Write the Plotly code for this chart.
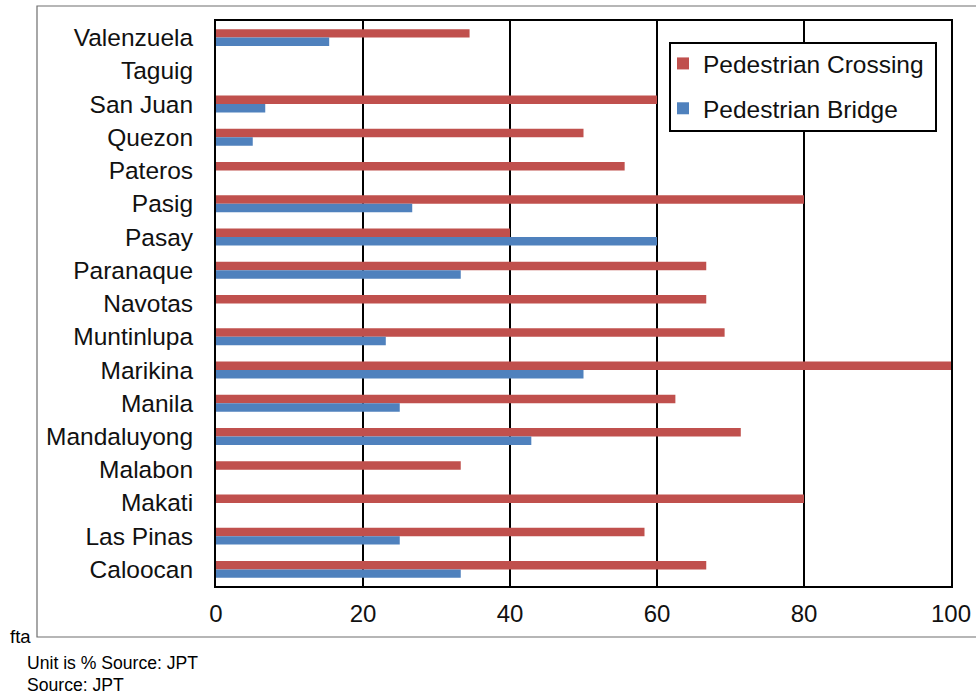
import plotly.graph_objects as go

# Municipalities, listed top to bottom as drawn
cities = ["Valenzuela", "Taguig", "San Juan", "Quezon", "Pateros", "Pasig", "Pasay",
          "Paranaque", "Navotas", "Muntinlupa", "Marikina", "Manila", "Mandaluyong",
          "Malabon", "Makati", "Las Pinas", "Caloocan"]

# Share of sites (%) by facility type; None = no value reported
crossing = [34.5, None, 60.0, 50.0, 55.6, 80.0, 40.0, 66.7, 66.7, 69.2, 100.0, 62.5,
            71.4, 33.3, 80.0, 58.3, 66.7]
bridge = [15.4, None, 6.7, 5.0, None, 26.7, 60.0, 33.3, None, 23.1, 50.0, 25.0,
          42.9, None, None, 25.0, 33.3]

x_ticks = [0, 20, 40, 60, 80, 100]

RED = "#C0504D"
BLUE = "#4F81BD"
FONT = "Liberation Sans, Arial, sans-serif"

W, H = 976, 698
ML, MR, MT, MB = 216, 25, 21, 112
PW, PH = W - ML - MR, H - MT - MB


def px(x):
    return (x - ML) / PW


def py(y):
    return (H - MB - y) / PH


fig = go.Figure()
fig.add_trace(go.Bar(y=cities, x=crossing, orientation="h", name="Pedestrian Crossing",
                     marker=dict(color=RED, line=dict(width=0)), legendgroup="c"))
fig.add_trace(go.Bar(y=cities, x=bridge, orientation="h", name="Pedestrian Bridge",
                     marker=dict(color=BLUE, line=dict(width=0)), legendgroup="b"))

shapes = [
    # outer chart frame
    dict(type="rect", xref="paper", yref="paper", x0=px(37), x1=px(990), y0=py(637), y1=py(6),
         line=dict(color="#6e6e6e", width=1.2), fillcolor="rgba(0,0,0,0)", layer="below"),
    # legend box
    dict(type="rect", xref="paper", yref="paper", x0=px(670), x1=px(936), y0=py(131), y1=py(43),
         line=dict(color="black", width=2), fillcolor="white", layer="above"),
]

annotations = [
    dict(text="fta", xref="paper", yref="paper", x=px(8), y=py(636), xanchor="left",
         yanchor="middle", showarrow=False, font=dict(size=18.5, color="black", family=FONT)),
    dict(text="Unit is % Source: JPT", xref="paper", yref="paper", x=px(25), y=py(663),
         xanchor="left", yanchor="middle", showarrow=False,
         font=dict(size=17.6, color="black", family=FONT)),
    dict(text="Source: JPT", xref="paper", yref="paper", x=px(25), y=py(685),
         xanchor="left", yanchor="middle", showarrow=False,
         font=dict(size=17.6, color="black", family=FONT)),
]

fig.update_layout(
    width=W, height=H,
    margin=dict(l=ML, r=MR, t=MT, b=MB, pad=0, autoexpand=False),
    paper_bgcolor="white", plot_bgcolor="white",
    barmode="group", bargap=0.49, bargroupgap=0,
    font=dict(family=FONT, size=24, color="#111111"),
    xaxis=dict(range=[0, 100], tickvals=x_ticks, showgrid=True, gridcolor="black", gridwidth=2,
               showline=True, linecolor="black", linewidth=2, mirror=True, zeroline=False,
               ticks="", ticklabelstandoff=5, tickfont=dict(size=24), automargin=False),
    yaxis=dict(autorange="reversed", showgrid=False, showline=True, linecolor="black",
               linewidth=2, mirror=True, ticks="", ticklabelstandoff=16,
               tickfont=dict(size=24.5), automargin=False),
    legend=dict(x=px(663), y=py(41), xanchor="left", yanchor="top", bgcolor="rgba(0,0,0,0)",
                borderwidth=0, font=dict(size=24.5, color="#111111"),
                traceorder="grouped", tracegroupgap=10),
    shapes=shapes,
    annotations=annotations,
)

fig.write_html("out.html")
